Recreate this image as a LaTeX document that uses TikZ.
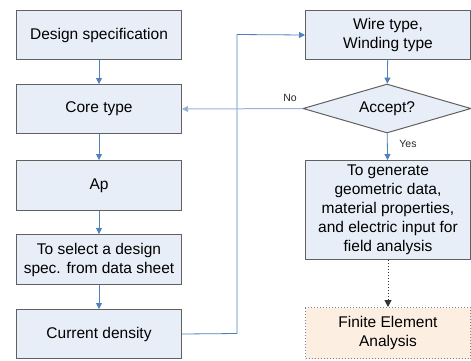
\documentclass[tikz,border=0pt]{standalone}
\usepackage{fontspec}
\setmainfont{Liberation Sans}
\usetikzlibrary{arrows.meta,shapes.geometric,positioning}
\definecolor{boxfill}{HTML}{E8EEF7}
\definecolor{boxline}{HTML}{606060}
\definecolor{arr}{HTML}{4F81BD}
\definecolor{arrlight}{HTML}{95B3D7}
\definecolor{femfill}{HTML}{FDEEE2}
\tikzset{
  flowbox/.style={draw=boxline, line width=1pt, fill=boxfill, align=center,
    font=\fontsize{15.5}{19}\selectfont, inner sep=0pt, anchor=north west},
  decbox/.style={draw=boxline, line width=1pt, fill=boxfill, diamond, aspect=3.4,
    font=\fontsize{15.5}{19}\selectfont, inner sep=0pt},
  flowarr/.style={draw=arr, line width=0.8pt, -{Triangle[length=6pt,width=6pt]}},
  lightarr/.style={draw=arrlight, line width=1pt, -{Triangle[length=6pt,width=6pt]}},
  lbl/.style={font=\fontsize{10.5}{12}\selectfont, text=black!85, inner sep=0pt}
}
\begin{document}
\begin{tikzpicture}[x=1pt,y=-1pt]
\useasboundingbox (0,0) rectangle (471,360);
\node[flowbox, minimum width=165pt, minimum height=49pt] (ds) at (16,10) {Design specification};
\node[flowbox, minimum width=165pt, minimum height=49pt] (ct) at (16,84) {Core type};
\node[flowbox, minimum width=165pt, minimum height=50pt] (ap) at (16,160) {Ap};
\node[flowbox, minimum width=165pt, minimum height=50pt] (sel) at (16,234) {To select a design\\spec. from data sheet};
\node[flowbox, minimum width=165pt, minimum height=49pt] (cd) at (16,309) {Current density};
\node[flowbox, minimum width=165pt, minimum height=49pt] (wt) at (305,10) {Wire type,\\Winding type};
\node[decbox, minimum width=168pt, minimum height=49pt] (acc) at (387,108.5) {Accept?};
\node[flowbox, minimum width=165pt, minimum height=99pt] (gen) at (305,160) {To generate\\geometric data,\\material properties,\\and electric input for\\field analysis};
\node[flowbox, draw=boxline!80, dotted, fill=femfill, minimum width=165pt, minimum height=51pt] (fem) at (305,307) {Finite Element\\Analysis};
\draw[flowarr] (ds) -- (ct);
\draw[flowarr] (ct) -- (ap);
\draw[flowarr] (ap) -- (sel);
\draw[flowarr] (sel) -- (cd);
\coordinate (c1) at (237,333.5);
\coordinate (c2) at (237,34.5);
\draw[flowarr] (cd.east) -- (c1) -- (c2) -- (wt.west);
\draw[flowarr] (wt) -- (acc);
\draw[lightarr] (acc.west) -- (ct.east);
\draw[flowarr] (acc) -- (gen);
\draw[draw=black!80, line width=1pt, dotted, -{Triangle[length=7pt,width=7pt]}] (gen) -- (fem);
\node[lbl] (no) at (290,97.5) {No};
\node[lbl] (yes) at (408,144) {Yes};
\end{tikzpicture}
\end{document}
